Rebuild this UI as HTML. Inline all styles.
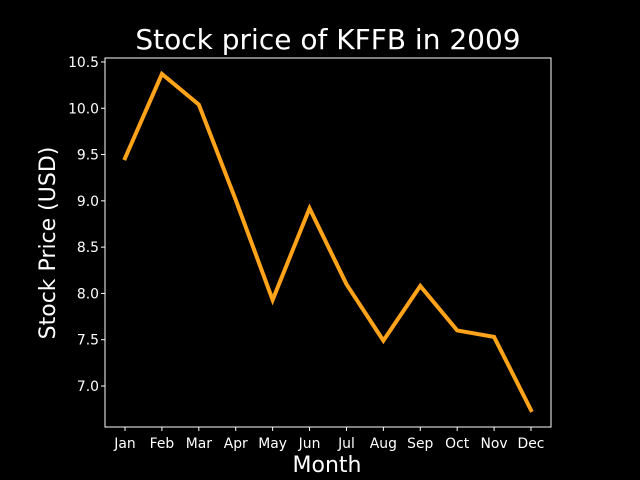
<!DOCTYPE html>
<html><head><meta charset="utf-8"><style>
html,body{margin:0;padding:0;background:#000;}
svg{display:block;font-family:"DejaVu Sans","Liberation Sans",sans-serif;}
</style></head><body>
<svg id="chart" width="640" height="480">
<rect width="640" height="480" fill="#000"/>
<text x="328" y="49" fill="#fff" font-size="28" text-anchor="middle">Stock price of KFFB in 2009</text>
<text x="327" y="472" fill="#fff" font-size="22" text-anchor="middle">Month</text>
<text transform="translate(55,243) rotate(-90)" fill="#fff" font-size="22" text-anchor="middle">Stock Price (USD)</text>
<g id="axes"></g>
</svg>
<script>
const months = ["Jan","Feb","Mar","Apr","May","Jun","Jul","Aug","Sep","Oct","Nov","Dec"];
const prices = [9.46,10.37,10.04,9.01,7.93,8.92,8.10,7.49,8.08,7.60,7.53,6.74];
const yTicks = [7.0,7.5,8.0,8.5,9.0,9.5,10.0,10.5];
const L=105,R=551,T=58,B=427,yMin=6.557,yMax=10.543;
const x=i=>125+i*(531-125)/(months.length-1);
const y=v=>B-(v-yMin)/(yMax-yMin)*(B-T);
const ns="http://www.w3.org/2000/svg";
const g=document.getElementById('axes');
function mk(t,a){const e=document.createElementNS(ns,t);for(const k in a)e.setAttribute(k,a[k]);g.appendChild(e);return e;}
const frame=mk('rect',{x:L,y:T,width:R-L,height:B-T,fill:'none',stroke:'#fff','stroke-width':1});


yTicks.forEach(v=>{
  const tk=mk('line',{x1:L-4,x2:L,y1:y(v),y2:y(v),stroke:'#fff'});
  
  
  const t=mk('text',{x:L-6,y:y(v)+5,fill:'#fff','font-size':13.9,'text-anchor':'end'});
  t.textContent=v.toFixed(1);
  
  
});
months.forEach((m,i)=>{
  const tk=mk('line',{x1:x(i),x2:x(i),y1:B,y2:B+4,stroke:'#fff'});
  
  
  const t=mk('text',{x:x(i),y:B+21,fill:'#fff','font-size':13.9,'text-anchor':'middle'});
  t.textContent=m;
  
  
});
const line=mk('polyline',{points:prices.map((v,i)=>x(i)+','+y(v)).join(' '),fill:'none',stroke:'#FFA31A','stroke-width':4,'stroke-linejoin':'miter','stroke-linecap':'square'});


</script>
</body></html>
